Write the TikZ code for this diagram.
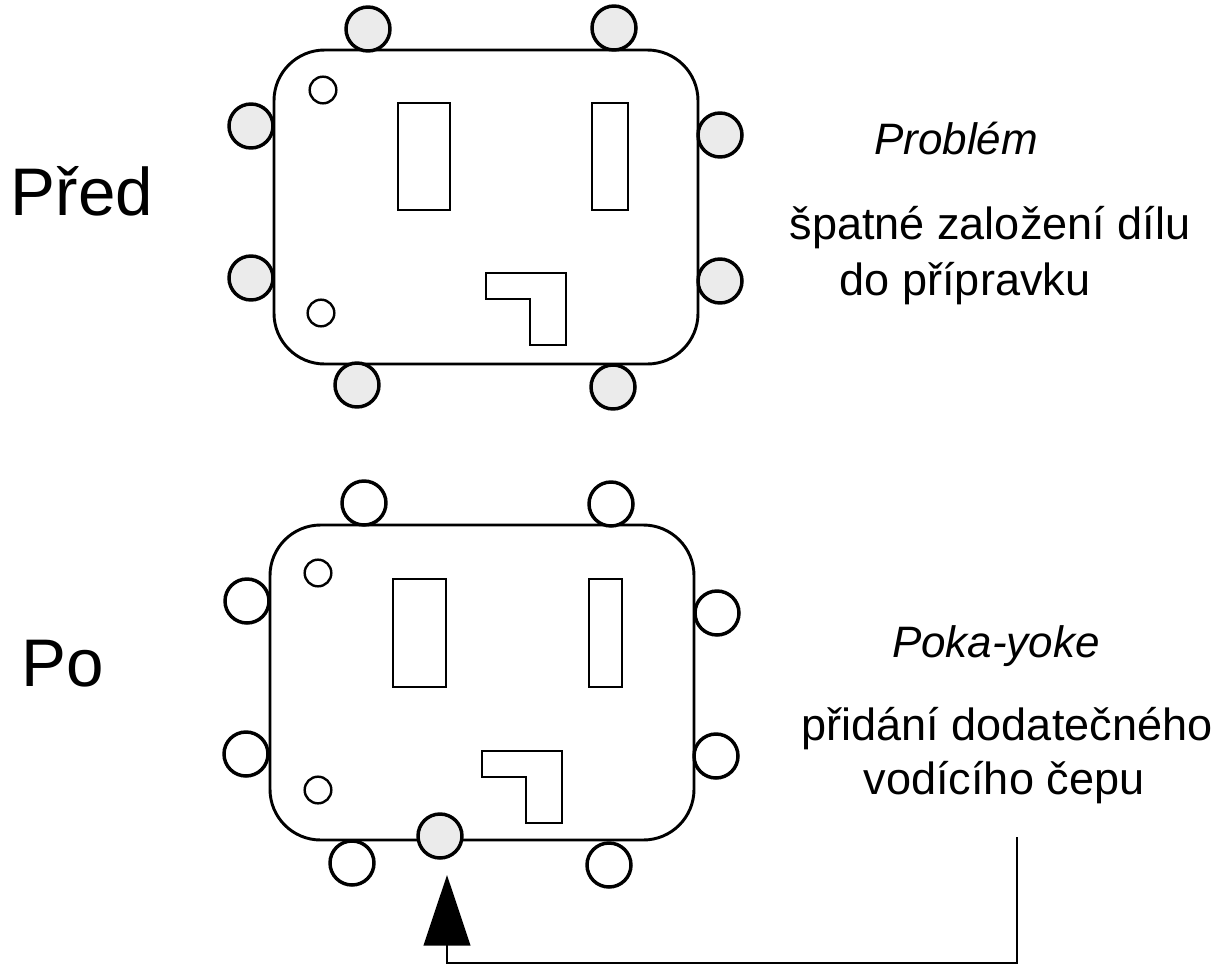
\documentclass[tikz,border=0pt]{standalone}
\usepackage{fontspec}
\setmainfont{Liberation Sans}
\usetikzlibrary{arrows.meta}

\tikzset{
    deska/.style={line width=2.2pt, rounded corners=38pt},
    otvor/.style={draw, line width=1.9pt},
    cep/.style={circle, draw, line width=2.6pt, fill=white, minimum size=33pt, inner sep=0pt},
    sedycep/.style={cep, fill=black!8},
    malycep/.style={circle, draw, line width=1.8pt, fill=white, minimum size=20pt, inner sep=0pt},
    velky/.style={font=\fontsize{50.5}{50}\selectfont},
    popis/.style={font=\fontsize{33.8}{40}\selectfont},
    nadpis/.style={font=\fontsize{33}{40}\selectfont\itshape}
}

\begin{document}
\begin{tikzpicture}[x=0.75pt,y=-0.75pt]
    \useasboundingbox (0,0) rectangle (1220,964);

    % horni deska (pred)
    \draw[deska] (274,50) rectangle (698,364);
    \draw[otvor] (398,103) rectangle (450,210);
    \draw[otvor] (592,103) rectangle (628,210);
    \draw[otvor] (486,273) -- (566,273) -- (566,345) -- (530,345) -- (530,299) -- (486,299) -- cycle;
    \node[malycep] (h1) at (323,90) {};
    \node[malycep] (h2) at (321,313) {};

    % cepy na horni desce
    \node[sedycep] (a1) at (368,29) {};
    \node[sedycep] (a2) at (614,28) {};
    \node[sedycep] (a3) at (251,126) {};
    \node[sedycep] (a4) at (720,135) {};
    \node[sedycep] (a5) at (251,278) {};
    \node[sedycep] (a6) at (720,281) {};
    \node[sedycep] (a7) at (357,385) {};
    \node[sedycep] (a8) at (613,387) {};

    % dolni deska (po)
    \draw[deska] (270,525) rectangle (694,840);
    \draw[otvor] (393,579) rectangle (446,687);
    \draw[otvor] (589,579) rectangle (622,687);
    \draw[otvor] (482,751) -- (562,751) -- (562,823) -- (526,823) -- (526,777) -- (482,777) -- cycle;
    \node[malycep] (h3) at (318,573) {};
    \node[malycep] (h4) at (318,790) {};

    % cepy na dolni desce
    \node[cep] (b1) at (364,503) {};
    \node[cep] (b2) at (611,504) {};
    \node[cep] (b3) at (247,601) {};
    \node[cep] (b4) at (717,613) {};
    \node[cep] (b5) at (246,754) {};
    \node[cep] (b6) at (716,756) {};
    \node[cep] (b7) at (352,863) {};
    \node[cep] (b8) at (609,865) {};
    \node[sedycep] (novy) at (440,836) {};

    % popisky
    \node[velky] (pred) at (82,191) {Před};
    \node[velky] (po) at (63,664) {Po};
    \node[nadpis] (problem) at (956,139) {Problém};
    \node[popis] (chyba1) at (990,228) {špatné založení dílu};
    \node[popis] (chyba2) at (965,284) {do přípravku};
    \node[nadpis] (pokayoke) at (996,646) {Poka-yoke};
    \node[popis] (reseni1) at (1007,729) {přidání dodatečného};
    \node[popis] (reseni2) at (1004,783) {vodícího čepu};

    % sipka k novemu cepu
    \coordinate (zacatek) at (1017,837);
    \coordinate (roh) at (1017,963);
    \coordinate (spicka) at (447,875);
    \draw[line width=1.7pt, -{Triangle[length=53pt,width=35pt]}] (zacatek) -- (roh) -| (spicka);

\end{tikzpicture}
\end{document}
